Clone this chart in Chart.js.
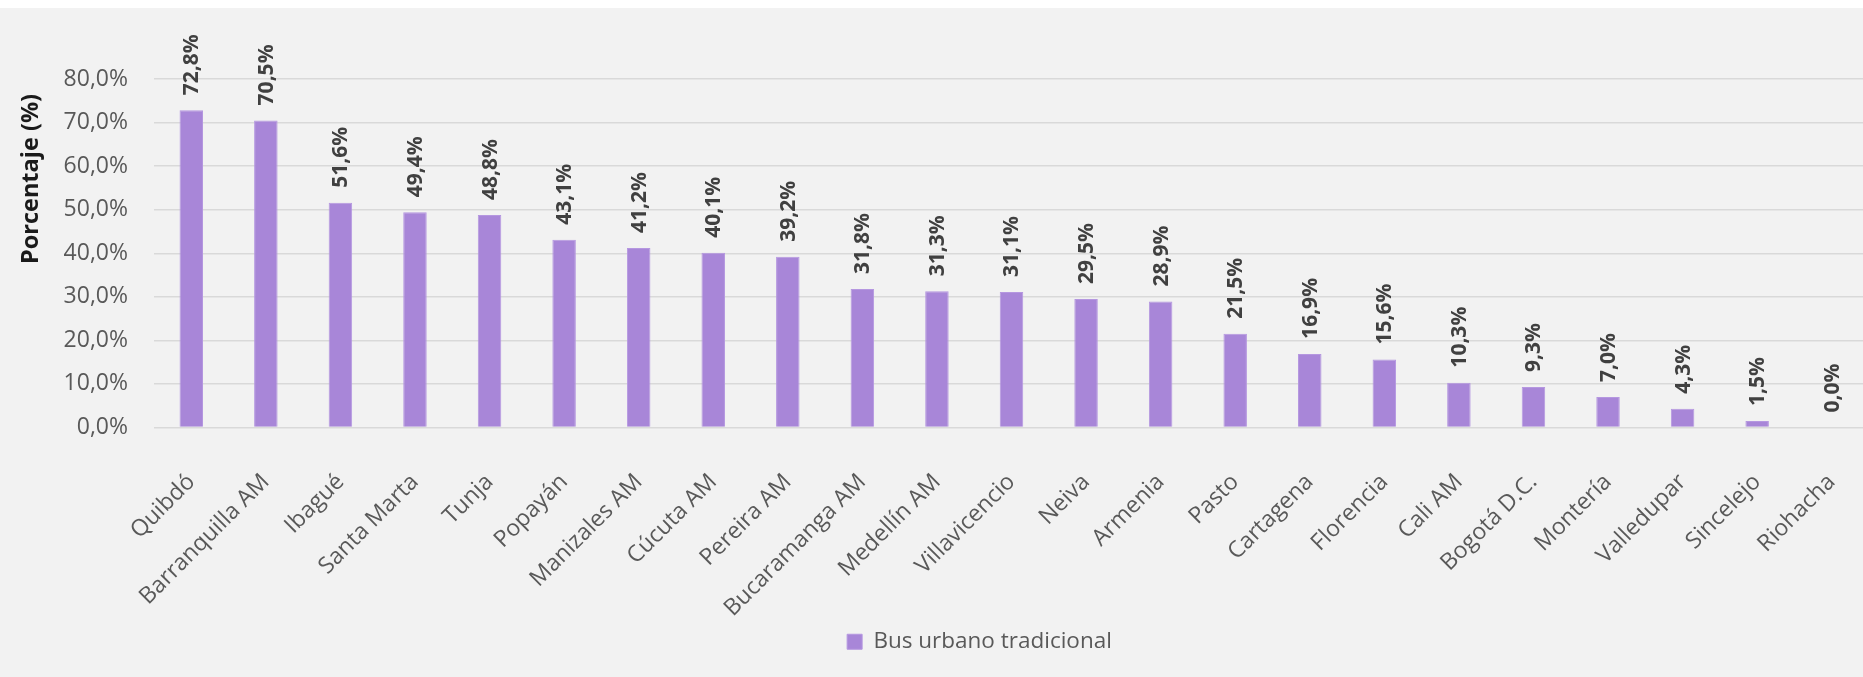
<!DOCTYPE html>
<html>
<head>
<meta charset="utf-8">
<script src="https://cdn.jsdelivr.net/npm/chart.js@4/dist/chart.umd.min.js"></script>
<style>
  html, body { margin: 0; padding: 0; background: #fff; overflow: hidden; }
  #wrap { position: absolute; left: 0; top: 8px; width: 1869px; height: 669px; background: #f2f2f2; }
</style>
</head>
<body>
<div id="wrap"><canvas id="chart" width="1869" height="669"></canvas></div>
<script>
const cities = ['Quibdó', 'Barranquilla AM', 'Ibagué', 'Santa Marta', 'Tunja', 'Popayán', 'Manizales AM',
  'Cúcuta AM', 'Pereira AM', 'Bucaramanga AM', 'Medellín AM', 'Villavicencio', 'Neiva', 'Armenia',
  'Pasto', 'Cartagena', 'Florencia', 'Cali AM', 'Bogotá D.C.', 'Montería', 'Valledupar', 'Sincelejo', 'Riohacha'];
const busShare = [72.8, 70.5, 51.6, 49.4, 48.8, 43.1, 41.2, 40.1, 39.2, 31.8, 31.3, 31.1, 29.5, 28.9,
  21.5, 16.9, 15.6, 10.3, 9.3, 7.0, 4.3, 1.5, 0.0];
const seriesName = 'Bus urbano tradicional';
const yTitle = 'Porcentaje (%)';

const fontFamily = '"Segoe UI", "Open Sans", sans-serif';

function pct(v) {
  return v.toFixed(1).replace('.', ',') + '%';
}

// value labels above bars, rotated
const barLabels = {
  id: 'barLabels',
  afterDatasetsDraw(chart) {
    const ctx = chart.ctx;
    const meta = chart.getDatasetMeta(0);
    ctx.save();
    ctx.fillStyle = '#404040';
    ctx.font = 'bold 21px ' + fontFamily;
    ctx.textAlign = 'left';
    ctx.textBaseline = 'middle';
    meta.data.forEach((bar, i) => {
      ctx.save();
      ctx.translate(bar.x + 1, bar.y - 15);
      ctx.rotate(-Math.PI / 2);
      ctx.fillText(pct(busShare[i]), 0, 0);
      ctx.restore();
    });
    ctx.restore();
  }
};

// y axis title, sits higher than centre like the original
const yTitlePlugin = {
  id: 'yTitle',
  afterDraw(chart) {
    const ctx = chart.ctx;
    ctx.save();
    ctx.fillStyle = '#1a1a1a';
    ctx.font = 'bold 23.5px ' + fontFamily;
    ctx.textAlign = 'center';
    ctx.textBaseline = 'middle';
    ctx.translate(31, chart.chartArea.top + 100);
    ctx.rotate(-Math.PI / 2);
    ctx.fillText(yTitle, 0, 0);
    ctx.restore();
  }
};

// the original legend sits a bit right of centre
const legendShift = {
  id: 'legendShift',
  afterLayout(chart) {
    chart.legend.left += 45;
    chart.legend.right += 45;
  }
};

new Chart(document.getElementById('chart').getContext('2d'), {
  type: 'bar',
  data: {
    labels: cities,
    datasets: [{
      label: seriesName,
      data: busShare,
      backgroundColor: '#a886d8',
      borderColor: '#b597e0',
      borderWidth: 1,
      categoryPercentage: 1,
      barPercentage: 0.315
    }]
  },
  options: {
    responsive: false,
    animation: false,
    devicePixelRatio: 1,
    layout: { padding: { top: 71, right: 0, bottom: 14, left: 0 } },
    scales: {
      x: {
        grid: { display: false },
        border: { display: false },
        ticks: {
          autoSkip: false,
          maxRotation: 45,
          minRotation: 45,
          padding: 33,
          color: '#595959',
          font: { family: fontFamily, size: 23 }
        },
        afterFit(scale) {
          scale.height = 193;
          scale.paddingRight = 0;
          scale.paddingLeft = 0;
        }
      },
      y: {
        min: 0,
        max: 80,
        border: { display: false },
        grid: { color: '#d9d9d9', lineWidth: 1.5, drawTicks: false },
        ticks: {
          stepSize: 10,
          padding: 26,
          color: '#595959',
          font: { family: fontFamily, size: 23 },
          callback: v => pct(v)
        },
        afterFit(scale) { scale.width = 154; }
      }
    },
    plugins: {
      legend: {
        position: 'bottom',
        labels: {
          boxWidth: 15,
          boxHeight: 15,
          color: '#595959',
          font: { family: fontFamily, size: 22.5 }
        }
      },
      tooltip: { enabled: false }
    }
  },
  plugins: [barLabels, yTitlePlugin, legendShift]
});
</script>
</body>
</html>
